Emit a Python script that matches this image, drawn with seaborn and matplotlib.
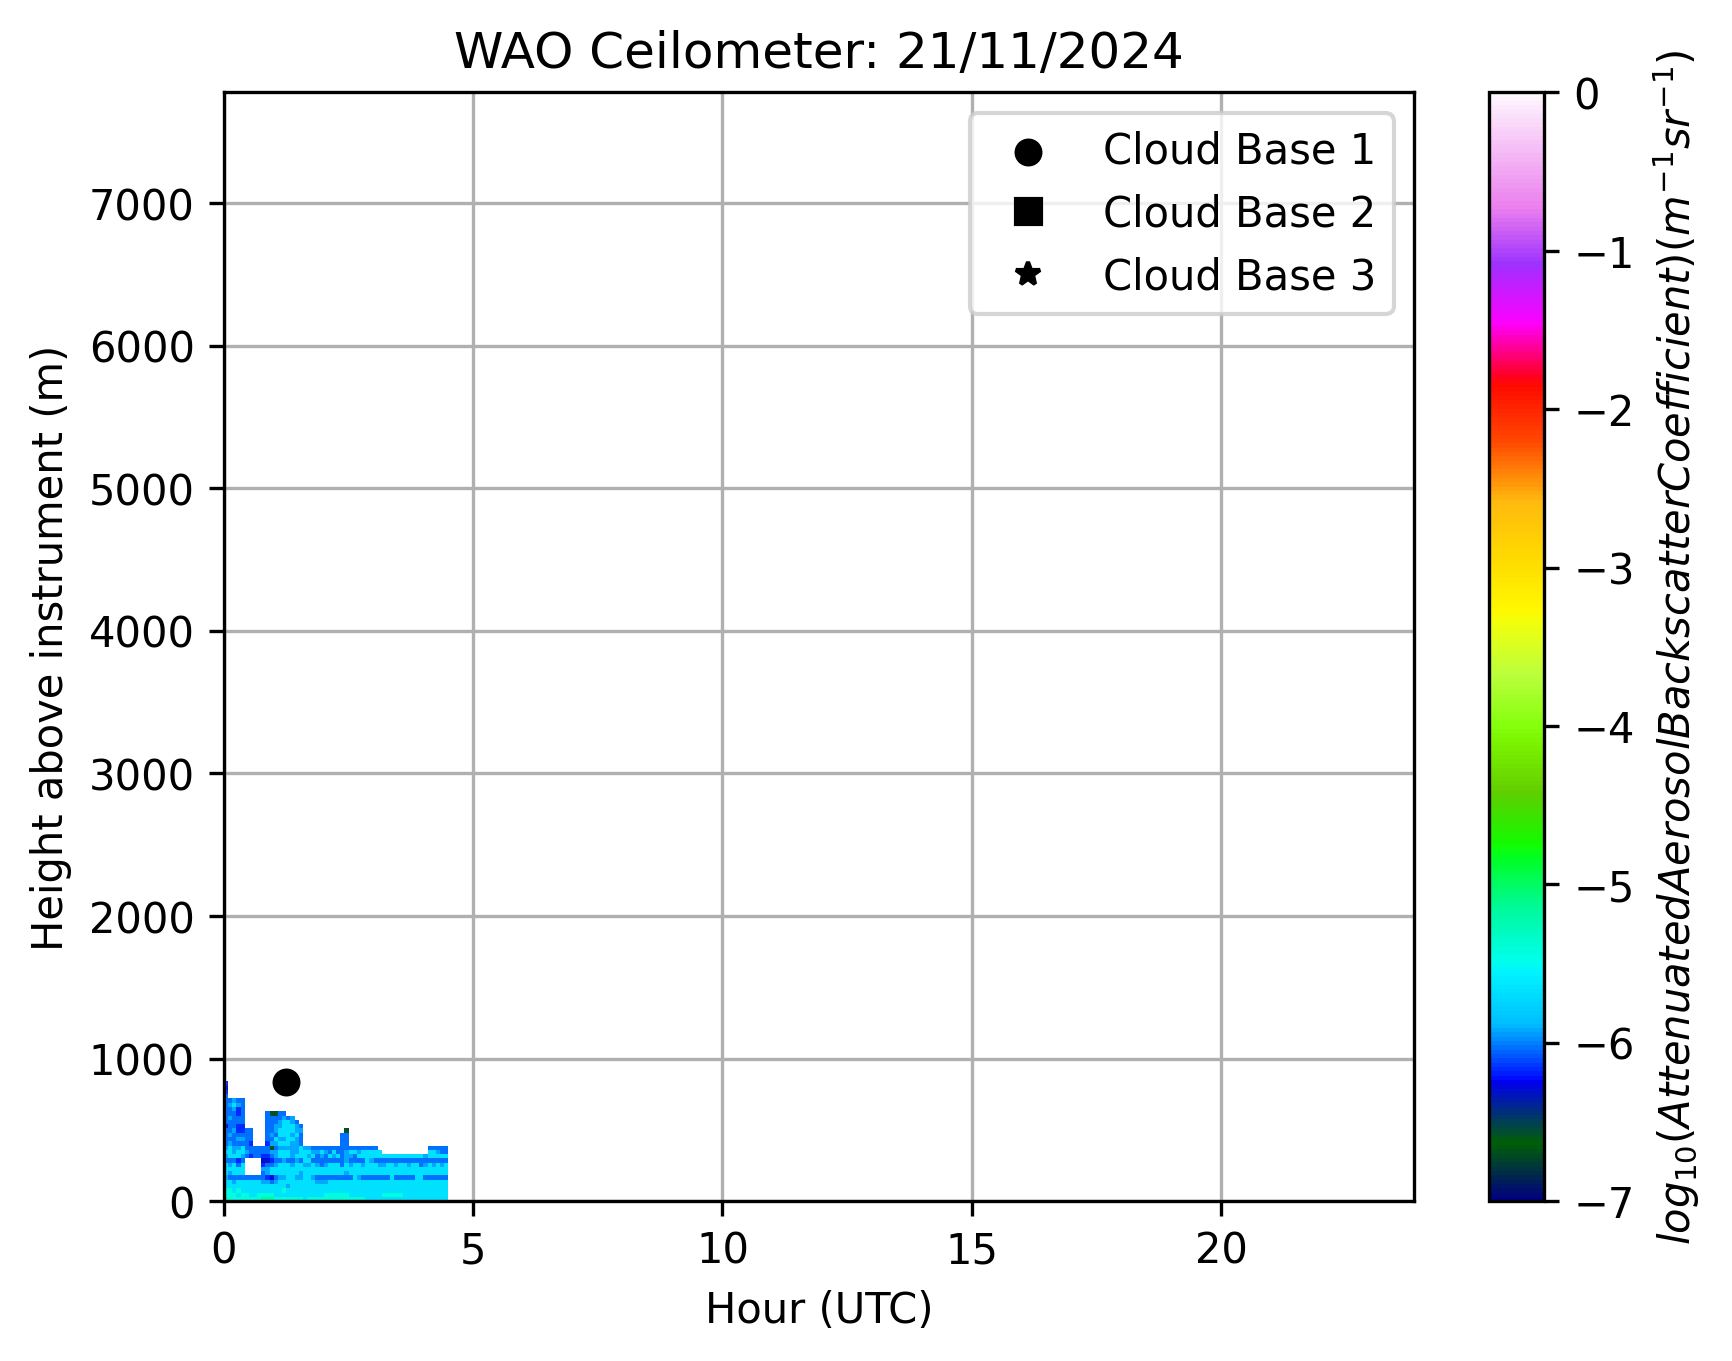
import matplotlib
matplotlib.use("Agg")  # no display in the sandbox

import numpy as np
import matplotlib.pyplot as plt
import seaborn as sns

# ---------------------------------------------------------------------------
# Data for 21/11/2024
# ---------------------------------------------------------------------------
DATE_LABEL = "21/11/2024"
TIME_STEP_H = 5 / 60     # one profile every 5 minutes
GATE_M = 30              # range gate height

# log10 backscatter level for each colour seen in the picture
LEVELS = {
    ".": np.nan,   # no signal (white)
    "k": -6.58,    # dark green
    "n": -6.30,    # navy
    "d": -6.16,    # dark blue
    "b": -6.03,    # blue
    "l": -5.92,    # light blue
    "c": -5.68,    # cyan
    "a": -5.42,    # aqua
    "g": -5.20,    # green
}

# one string per range gate, top gate first, one char per 5-min profile
backscatter_rows = [
    "d" + "." * 53,
    "n" + "." * 53,
    "d" + "." * 53,
    "b" + "." * 53,
    "bblbb" + "." * 49,
    "blclb" + "." * 49,
    "bbldb" + "." * 49,
    "bbbdb" + "." * 5 + "bkkbb" + "." * 39,
    "blbbb" + "." * 5 + "bbbbl" + "bl" + "." * 37,
    "bbbbb" + "." * 5 + "bbblc" + "clb" + "." * 36,
    "nbbdd" + "." * 5 + "bbllc" + "cclb" + "." * 35,
    "bbldd" + "bb" + "..." + "bblcc" + "ccll" + "." * 10 + "k" + "." * 24,
    "blbbb" + "bb" + "..." + "blbcc" + "clcb" + "." * 9 + "bb" + "." * 24,
    "bbbll" + "bb" + "..." + "bbcll" + "cclb" + "." * 9 + "bb" + "." * 24,
    "blbbb" + "bd" + "..." + "dllcc" + "cllb" + "." * 9 + "bb" + "." * 24,
    "lcllc" + "bb" + "bbb" + "bkbll" + "lllcll" + "bbbbbbbbb" + "bbbbbbb" + "." * 12 + "bbbbb",
    "cclcc" + "lb" + "bbb" + "bllcc" + "cllccc" + "llclbcbbl" + "cclcccc" + "c" + "." * 11 + "cclbb",
    "lcccl" + "bd" + "bbd" + "dblcc" + "clcccl" + "cblbclcbl" + "lbccccc" + "c" + "ccccccccccl" + "ccccc",
    "bbbdb" + "...." + "n" + "ndbbl" + "bblbcc" + "bbbbbbbbl" + "bbbbclb" + "b" + "bbbbbbbbbbb" + "bbbbb",
    "clcbc" + "...." + "d" + "bblcc" + "clccll" + "clblcccbc" + "lcclccc" + "l" + "lcclcclccbl" + "clclc",
    "ccccc" + "...." + "l" + "lcccc" + "c" * 39,
    "clccc" + "...." + "b" + "lcccc" + "cccl" + "c" * 10 + "l" + "c" * 24,
    "lbbbb" + "bbbbb" + "d" + "n" + "bll" + "ccllccl" + "bbbbbbbbb" + "cl" + "bbbbbbb" + "c" + "bbbbb" + "cc" + "bbbbbb",
    "cclcc" + "ccccl" + "l" + "b" + "lcc" + "c" * 7 + "lll" + "c" * 29,
    "ccccc" + "c" * 10 + "l" + "c" * 38,
    "aaca" + "c" * 10 + "a" + "c" * 39,
    "aaacaaccaaaacc" + "c" * 10 + "aaaaaa" + "c" * 8 + "aaaaa" + "c" * 11,
    "gaaaaaaaagggaaaaaaac" + "a" * 14 + "c" * 20,
]

# cloud base detections (hour UTC, metres above instrument)
cb1_hour = [1.245]
cb1_height = [834]
cb2_hour, cb2_height = [], []
cb3_hour, cb3_height = [], []

X_MAX_H = 23.88
Y_MAX_M = 7775


def build_grid(rows):
    """Turn the row strings into a (gate, profile) array, ground first."""
    n_cols = len(rows[0])
    for r in rows:
        assert len(r) == n_cols, (len(r), r)
    grid = np.array([[LEVELS[ch] for ch in r] for r in rows])
    return np.flipud(grid)


def main():
    grid = build_grid(backscatter_rows)
    n_gates, n_profiles = grid.shape
    hour_edges = np.arange(n_profiles + 1) * TIME_STEP_H
    height_edges = np.arange(n_gates + 1) * GATE_M

    fig, ax = plt.subplots(figsize=(6.4, 4.8))
    mesh = ax.pcolormesh(hour_edges, height_edges, grid,
                         cmap="gist_ncar", vmin=-7, vmax=0)

    sns.scatterplot(x=cb1_hour, y=cb1_height, ax=ax, color="black",
                    marker="o", s=45, linewidth=0, label="Cloud Base 1",
                    zorder=3)
    ax.plot(cb2_hour, cb2_height, "s", color="black", label="Cloud Base 2")
    ax.plot(cb3_hour, cb3_height, "*", color="black", label="Cloud Base 3")

    cbar = fig.colorbar(mesh, ax=ax)
    cbar.set_label(r"$log_{10}(AttenuatedAerosolBackscatterCoefficient)"
                   r"(m^{-1}sr^{-1})$")

    ax.set_xlim(0, X_MAX_H)
    ax.set_ylim(0, Y_MAX_M)
    ax.set_xlabel("Hour (UTC)")
    ax.set_ylabel("Height above instrument (m)")
    ax.set_title(f"WAO Ceilometer: {DATE_LABEL}")
    ax.grid(True)
    ax.legend(loc="upper right")

    fig.savefig("out.png", dpi=300, bbox_inches="tight")
    plt.close(fig)


if __name__ == "__main__":
    main()
